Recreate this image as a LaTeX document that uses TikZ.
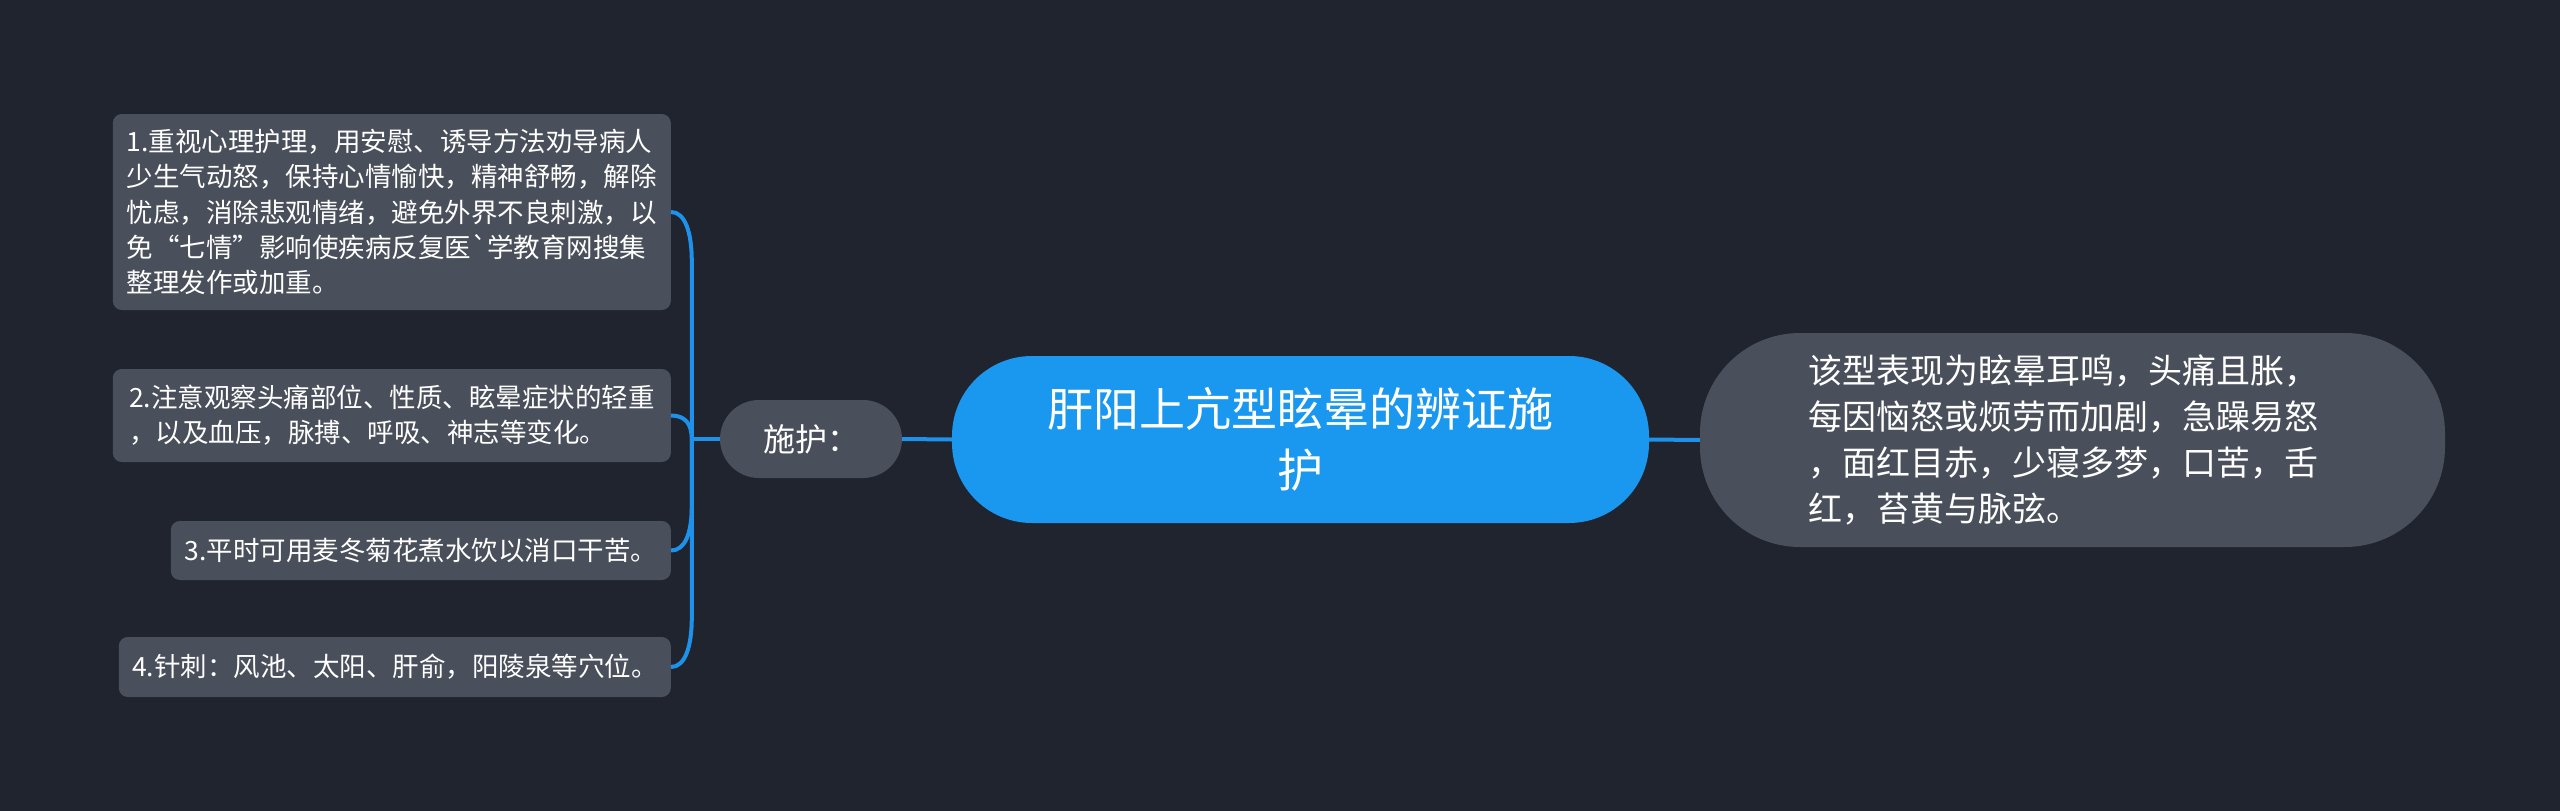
\documentclass[tikz,border=0pt]{standalone}
\usepackage{fontspec}
\newfontfamily\cjk[Ligatures=TeXOff]{Noto Sans CJK SC}
\usetikzlibrary{calc}
\definecolor{bgc}{HTML}{20242F}
\definecolor{boxc}{HTML}{4A4F5C}
\definecolor{bluec}{HTML}{1A98F0}
\definecolor{linec}{HTML}{1E92EA}
\tikzset{
  leaf/.style={fill=boxc, rounded corners=9pt, text=white, inner sep=0pt, align=left,
    anchor=east, font=\cjk\fontsize{26.5}{35.3}\selectfont},
  mid/.style={fill=boxc, rounded corners=39pt, text=white, inner sep=0pt,
    minimum width=182pt, minimum height=78pt, font=\cjk\fontsize{32}{40}\selectfont},
  root/.style={fill=bluec, rounded corners=80pt, text=white, inner sep=0pt, align=center,
    minimum width=697pt, minimum height=167pt, font=\cjk\fontsize{46}{61}\selectfont},
  side/.style={fill=boxc, rounded corners=100pt, text=white, inner sep=0pt, align=left,
    minimum width=745pt, minimum height=214pt, font=\cjk\fontsize{34}{46}\selectfont},
  conn/.style={draw=linec, line width=4pt}
}
\begin{document}
\begin{tikzpicture}[x=1pt,y=-1pt]
\useasboundingbox (0,0) rectangle (2560,811);
\fill[bgc] (0,0) rectangle (2560,811);

\node[root] (c) at (1300.5,439.5) {肝阳上亢型眩晕的辨证施\\护};
\node[mid] (s) at (811,439) {施护：};
\node[side] (r) at (2072.5,440) {该型表现为眩晕耳鸣，头痛且胀，\\每因恼怒或烦劳而加剧，急躁易怒\rule{18pt}{0pt}\\，面红目赤，少寝多梦，口苦，舌\\红，苔黄与脉弦。};

\node[leaf, minimum width=558pt, minimum height=196pt] (b1) at (671,212)
  {1.重视心理护理，用安慰、诱导方法劝导病人\\少生气动怒，保持心情愉快，精神舒畅，解除\\忧虑，消除悲观情绪，避免外界不良刺激，以\\免“七情”影响使疾病反复医`学教育网搜集\\整理发作或加重。};
\node[leaf, minimum width=558pt, minimum height=93pt] (b2) at (671,415.5)
  {2.注意观察头痛部位、性质、眩晕症状的轻重\\，以及血压，脉搏、呼吸、神志等变化。};
\node[leaf, minimum width=500pt, minimum height=59pt] (b3) at (671,550.5)
  {3.平时可用麦冬菊花煮水饮以消口干苦。};
\node[leaf, minimum width=552pt, minimum height=60pt] (b4) at (671,667)
  {4.针刺：风池、太阳、肝俞，阳陵泉等穴位。};

\draw[conn] (c.east) -- (r.west);
\draw[conn] (s.east) -- (c.west);
\coordinate (j) at ($(s.west)+(-28,0)$);
\draw[conn] (s.west) -- (j);

\coordinate (k1) at ($(j|-b1.east)+(0,50)$);
\draw[conn] (j) -- (k1) .. controls ($(k1)+(0,-30)$) and ($(b1.east)+(14,0)$) .. (b1.east);
\coordinate (k2) at ($(j|-b2.east)+(0,24)$);
\draw[conn] (j) -- (k2) .. controls ($(k2)+(0,-16)$) and ($(b2.east)+(14,0)$) .. (b2.east);
\coordinate (k3) at ($(j|-b3.east)+(0,-45)$);
\draw[conn] (j) -- (k3) .. controls ($(k3)+(0,28)$) and ($(b3.east)+(14,0)$) .. (b3.east);
\coordinate (k4) at ($(j|-b4.east)+(0,-50)$);
\draw[conn] (j) -- (k4) .. controls ($(k4)+(0,30)$) and ($(b4.east)+(14,0)$) .. (b4.east);
\end{tikzpicture}
\end{document}
